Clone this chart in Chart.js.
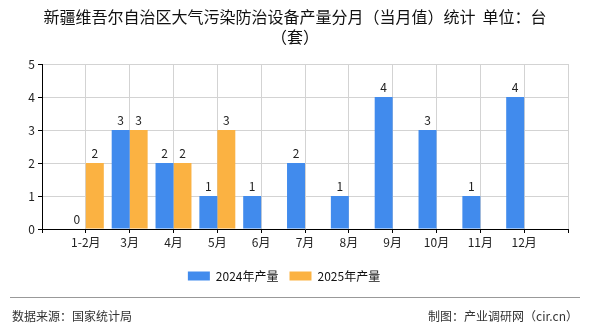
<!DOCTYPE html>
<html>
<head>
<meta charset="utf-8">
<script src="https://cdn.jsdelivr.net/npm/chart.js@4"></script>
<style>
  body { margin: 0; background: #fff; }
  #wrap { position: relative; width: 590px; height: 330px; font-family: "Noto Sans CJK SC", sans-serif; color: #111; }
  #title { position: absolute; left: 0; top: 6px; width: 590px; text-align: center; font-size: 16px; line-height: 20px; }
  #foot { position: absolute; left: 10px; top: 297px; width: 570px; border-top: 1px solid #999; font-size: 12px; color: #333; }
  #foot span { position: absolute; top: 9px; }
  canvas { position: absolute; left: 0; top: 0; }
</style>
</head>
<body>
<div id="wrap">
  <canvas id="chartOutput" width="590" height="330"></canvas>
  <div id="title">新疆维吾尔自治区大气污染防治设备产量分月（当月值）统计&nbsp;&nbsp;单位：台<br>（套）</div>
  <div id="foot"><span style="left:2px">数据来源：国家统计局</span><span style="right:2px">制图：产业调研网（cir.cn）</span></div>
</div>
<script>
// month labels, with a blank slot on each end of the axis
const months = ['', '1-2月', '3月', '4月', '5月', '6月', '7月', '8月', '9月', '10月', '11月', '12月', '']
const output2024 = [null, 0, 3, 2, 1, 1, 2, 1, 4, 3, 1, 4, null]
const output2025 = [null, 2, 3, 2, 3, null, null, null, null, null, null, null, null]
const yTicks = [0, 1, 2, 3, 4, 5]

// writes the value above each bar
const valueLabels = {
  id: 'valueLabels',
  afterDatasetsDraw(chart) {
    const ctx = chart.ctx
    ctx.save()
    ctx.font = '12px "Noto Sans CJK SC", sans-serif'
    ctx.fillStyle = '#222'
    ctx.textAlign = 'center'
    ctx.textBaseline = 'bottom'
    chart.data.datasets.forEach((ds, i) => {
      chart.getDatasetMeta(i).data.forEach((bar, j) => {
        const v = ds.data[j]
        if (v === null) return
        ctx.fillText(String(v), bar.x, bar.y - 4)
      })
    })
    ctx.restore()
  }
}

const ctx = document.getElementById('chartOutput').getContext('2d')
const config = {
  type: 'bar',
  data: {
    labels: months,
    datasets: [{
      label: '2024年产量',
      data: output2024,
      backgroundColor: '#418bed'
    }, {
      label: '2025年产量',
      data: output2025,
      backgroundColor: '#fbb242'
    }]
  },
  options: {
    responsive: false,
    animation: false,
    categoryPercentage: 0.82,
    barPercentage: 1,
    layout: { padding: { top: 64, left: 0, right: 22, bottom: 38 } },
    plugins: {
      title: { display: false },
      tooltip: { enabled: false },
      legend: {
        position: 'bottom',
        labels: {
          boxWidth: 22,
          boxHeight: 9,
          padding: 11,
          color: '#111',
          font: { size: 12, family: '"Noto Sans CJK SC", sans-serif' }
        }
      }
    },
    scales: {
      x: {
        offset: false,
        grid: { offset: false, color: '#d3d3d3', tickColor: '#000', tickLength: 4 },
        border: { color: '#000' },
        ticks: {
          color: '#222',
          padding: 2,
          maxRotation: 0,
          autoSkip: false,
          font: { size: 12, family: '"Noto Sans CJK SC", sans-serif' }
        },
        afterFit(scale) { scale.height = 30 }
      },
      y: {
        min: 0,
        max: 5,
        afterBuildTicks(scale) { scale.ticks = yTicks.map(v => ({ value: v })) },
        grid: { color: '#d3d3d3', tickColor: '#000', tickLength: 4 },
        border: { color: '#000' },
        ticks: {
          color: '#222',
          padding: 3,
          font: { size: 12, family: '"Noto Sans CJK SC", sans-serif' }
        },
        afterFit(scale) { scale.width = 42 }
      }
    }
  },
  plugins: [valueLabels]
}
const myChart = new Chart(ctx, config)
</script>
</body>
</html>
